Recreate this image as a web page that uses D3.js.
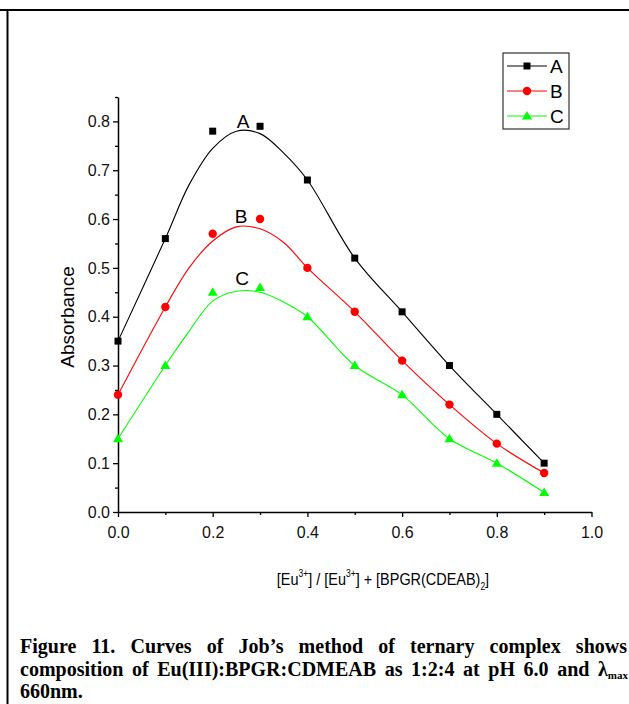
<!DOCTYPE html>
<html>
<head>
<meta charset="utf-8">
<script src="https://cdn.jsdelivr.net/npm/d3@7"></script>
<style>
  body { margin: 0; background: #fff; }
  svg { display: block; }
</style>
</head>
<body>
<div class="canvas"></div>
<script>
// measured points
const xs = [0.0, 0.1, 0.2, 0.3, 0.4, 0.5, 0.6, 0.7, 0.8, 0.9]
const seriesA = [0.35, 0.56, 0.78, 0.79, 0.68, 0.52, 0.41, 0.30, 0.20, 0.10]
const seriesB = [0.24, 0.42, 0.57, 0.60, 0.50, 0.41, 0.31, 0.22, 0.14, 0.08]
const seriesC = [0.15, 0.30, 0.45, 0.46, 0.40, 0.30, 0.24, 0.15, 0.10, 0.04]

// smoothed curves
const fitX = [0.0, 0.1, 0.15, 0.2, 0.25, 0.3, 0.35, 0.4, 0.5, 0.6, 0.7, 0.8, 0.9]
const fitA = [0.35, 0.56, 0.67, 0.745, 0.78, 0.775, 0.735, 0.68, 0.52, 0.41, 0.30, 0.20, 0.10]
const fitB = [0.24, 0.42, 0.50, 0.555, 0.584, 0.58, 0.552, 0.50, 0.41, 0.31, 0.22, 0.14, 0.08]
const fitC = [0.15, 0.30, 0.37, 0.432, 0.452, 0.45, 0.43, 0.40, 0.30, 0.24, 0.15, 0.10, 0.04]

const seriesNames = ["A", "B", "C"]
const seriesColors = ["#000000", "#ff0000", "#00ff00"]

const xMajor = [0, 0.2, 0.4, 0.6, 0.8, 1.0]
const xMinor = [0.1, 0.3, 0.5, 0.7, 0.9]
const yMajor = [0, 0.1, 0.2, 0.3, 0.4, 0.5, 0.6, 0.7, 0.8]
const yMinor = [0.05, 0.15, 0.25, 0.35, 0.45, 0.55, 0.65, 0.75, 0.85]

const svg = d3.select(".canvas").append("svg")
    .attr("width", 629)
    .attr("height", 704)

// frame lines of the page
svg.append("line").attr("x1", 0).attr("x2", 629).attr("y1", 10).attr("y2", 10)
    .attr("stroke", "#000").attr("stroke-width", 2)
svg.append("line").attr("x1", 7.5).attr("x2", 7.5).attr("y1", 10).attr("y2", 704)
    .attr("stroke", "#000").attr("stroke-width", 2)

const x = d3.scaleLinear().domain([0, 1]).range([118, 591.5])
const y = d3.scaleLinear().domain([0, 0.85]).range([512, 97])

// axes
const xAxisGroup = svg.append("g").attr("transform", "translate(0, 512)")
xAxisGroup.call(d3.axisBottom(x).tickValues(xMajor).tickSize(5).tickSizeOuter(0)
    .tickFormat(d3.format(".1f")).tickPadding(10))
svg.append("g").attr("transform", "translate(0, 512)")
    .call(d3.axisBottom(x).tickValues(xMinor).tickSize(3).tickSizeOuter(0).tickFormat(""))
    .select(".domain").remove()

const yAxisGroup = svg.append("g").attr("transform", "translate(118, 0)")
yAxisGroup.call(d3.axisLeft(y).tickValues(yMajor).tickSize(5).tickSizeOuter(0)
    .tickFormat(d3.format(".1f")).tickPadding(3))
svg.append("g").attr("transform", "translate(118, 0)")
    .call(d3.axisLeft(y).tickValues(yMinor).tickSize(3).tickSizeOuter(0).tickFormat(""))
    .select(".domain").remove()

svg.selectAll(".domain").attr("stroke-width", 1.5)
svg.selectAll(".tick line").attr("stroke-width", 1.3)
svg.selectAll(".tick text")
    .attr("font-family", "Arial, 'Liberation Sans', sans-serif")
    .attr("font-size", 16)
    .attr("fill", "#111")

// axis titles
svg.append("text")
    .attr("transform", "translate(74, 317) rotate(-90)")
    .attr("text-anchor", "middle")
    .attr("font-family", "Arial, 'Liberation Sans', sans-serif")
    .attr("font-size", 19)
    .text("Absorbance")

const xl = svg.append("text")
    .attr("transform", "translate(383, 585) scale(0.85, 1)")
    .attr("text-anchor", "middle")
    .attr("font-family", "Arial, 'Liberation Sans', sans-serif")
    .attr("font-size", 17)
xl.append("tspan").text("[Eu")
xl.append("tspan").attr("font-size", 10).attr("dy", -8).text("3+")
xl.append("tspan").attr("dy", 8).text("] / [Eu")
xl.append("tspan").attr("font-size", 10).attr("dy", -8).text("3+")
xl.append("tspan").attr("dy", 8).text("] + [BPGR(CDEAB)")
xl.append("tspan").attr("font-size", 10).attr("dy", 5).text("2")
xl.append("tspan").attr("dy", -5).text("]")

// curves and markers
const fits = [fitA, fitB, fitC]
const series = [seriesA, seriesB, seriesC]

const line = d3.line()
    .x(d => x(d[0]))
    .y(d => y(d[1]))
    .curve(d3.curveCatmullRom.alpha(0.5))

fits.forEach((f, i) => {
    svg.append("path")
        .datum(fitX.map((v, j) => [v, f[j]]))
        .attr("d", line)
        .attr("fill", "none")
        .attr("stroke", seriesColors[i])
        .attr("stroke-width", 1.1)
})

function drawMarker(g, i, cx, cy) {
    if (i === 0) {
        g.append("rect").attr("x", cx - 3.5).attr("y", cy - 3.5)
            .attr("width", 7).attr("height", 7).attr("fill", seriesColors[i])
    } else if (i === 1) {
        g.append("circle").attr("cx", cx).attr("cy", cy).attr("r", 4.2)
            .attr("fill", seriesColors[i])
    } else {
        g.append("path")
            .attr("d", `M${cx},${cy - 5}L${cx + 5},${cy + 3.5}L${cx - 5},${cy + 3.5}Z`)
            .attr("fill", seriesColors[i])
    }
}

series.forEach((s, i) => {
    const g = svg.append("g")
    s.forEach((v, j) => drawMarker(g, i, x(xs[j]), y(v)))
})

// curve labels
const labelX = [0.264, 0.26, 0.262]
const labelY = [0.787, 0.592, 0.465]
seriesNames.forEach((n, i) => {
    svg.append("text")
        .attr("x", x(labelX[i]))
        .attr("y", y(labelY[i]))
        .attr("text-anchor", "middle")
        .attr("font-family", "Arial, 'Liberation Sans', sans-serif")
        .attr("font-size", 19)
        .text(n)
})

// legend
const legend = svg.append("g")
legend.append("rect")
    .attr("x", 503).attr("y", 53).attr("width", 66).attr("height", 76)
    .attr("fill", "none").attr("stroke", "#333").attr("stroke-width", 1.2)
seriesNames.forEach((n, i) => {
    const ly = 66 + i * 25
    legend.append("line").attr("x1", 507).attr("x2", 547).attr("y1", ly).attr("y2", ly)
        .attr("stroke", seriesColors[i]).attr("stroke-width", 1.1)
    drawMarker(legend, i, 527, ly)
    legend.append("text")
        .attr("x", 550).attr("y", ly + 7)
        .attr("font-family", "Arial, 'Liberation Sans', sans-serif")
        .attr("font-size", 19)
        .text(n)
})

// caption
const capFont = "'Times New Roman', 'Liberation Serif', serif"
const cap1 = svg.append("text")
    .attr("x", 20).attr("y", 653)
    .attr("font-family", capFont).attr("font-weight", "bold").attr("font-size", 20)
    .text("Figure 11. Curves of Job’s method of ternary complex shows")
const cap2 = svg.append("text")
    .attr("x", 20).attr("y", 676)
    .attr("font-family", capFont).attr("font-weight", "bold").attr("font-size", 20)
cap2.append("tspan").text("composition of Eu(III):BPGR:CDMEAB as 1:2:4 at pH 6.0 and λ")
cap2.append("tspan").attr("font-size", 11).attr("dy", 3).text("max")
svg.append("text")
    .attr("x", 20).attr("y", 698)
    .attr("font-family", capFont).attr("font-weight", "bold").attr("font-size", 20)
    .text("660nm.")

// justify the first two caption lines
function justify(t, width) {
    const len = t.node().getComputedTextLength()
    const spaces = (t.text().match(/ /g) || []).length
    if (spaces > 0) t.attr("word-spacing", (width - len) / spaces)
}
justify(cap1, 607)
justify(cap2, 608)
</script>
</body>
</html>
